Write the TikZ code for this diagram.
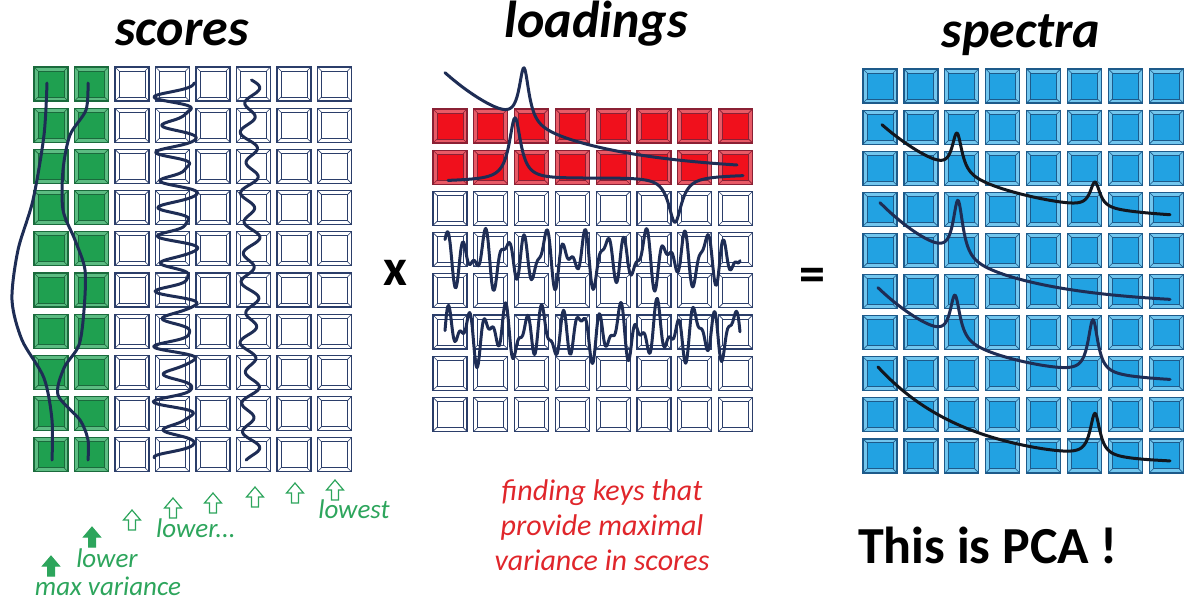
\documentclass[tikz,border=0pt]{standalone}
\usepackage{fontspec}
\setmainfont{Carlito}

% key colours: face, light bevel (L), dark rim (D)
\definecolor{gkey}{HTML}{1FA050}
\definecolor{gkeyL}{HTML}{5CBC82}
\definecolor{gkeyD}{HTML}{1A6A3C}
\definecolor{wkey}{HTML}{FFFFFF}
\definecolor{wkeyL}{HTML}{FFFFFF}
\definecolor{wkeyD}{HTML}{2B3E6A}
\definecolor{rkey}{HTML}{F0101C}
\definecolor{rkeyL}{HTML}{E85A66}
\definecolor{rkeyD}{HTML}{8A2034}
\definecolor{bkey}{HTML}{22A2E2}
\definecolor{bkeyL}{HTML}{72C6EE}
\definecolor{bkeyD}{HTML}{1D5A8A}
\definecolor{navy}{HTML}{1E2D55}
\definecolor{inkblack}{HTML}{12161E}
\definecolor{gtext}{HTML}{2DA55C}
\definecolor{rtext}{HTML}{E0262B}

% one bevelled key: x, y (top left), colour name
\newcommand{\keycap}[3]{%
  \filldraw[fill=#3L, draw=#3D, line width=1.2pt] (#1,#2) rectangle ++(34,34);
  \filldraw[fill=#3, draw=#3D, line width=0.9pt] ({#1+4},{#2+4}) rectangle ++(26,26);
  \draw[#3D, line width=0.6pt] (#1,#2) -- ++(4,4) ({#1+34},#2) -- ++(-4,4)
    (#1,{#2+34}) -- ++(4,-4) ({#1+34},{#2+34}) -- ++(-4,-4);
}

\begin{document}
\begin{tikzpicture}[x=1pt, y=-1pt,
    declare function={lor(\u,\m,\w)=1/(1+((\u-\m)/\w)^2);},
    curve/.style={line width=3pt, draw=navy, line cap=round, line join=round},
    blackcurve/.style={curve, draw=inkblack},
    title/.style={font=\fontsize{52}{60}\selectfont\bfseries\itshape, anchor=base},
    sign/.style={font=\fontsize{52}{60}\selectfont\bfseries},
    gnote/.style={font=\fontsize{27}{32}\selectfont\itshape, text=gtext, anchor=base},
    rnote/.style={font=\fontsize{30}{35}\selectfont\itshape, text=rtext, anchor=base},
    gfull/.style={fill=gtext, draw=gtext, line width=1pt},
    gopen/.style={fill=white, draw=gtext, line width=1.2pt},
    uparr/.pic={\path[pic actions] (-3.5,0) -- (-3.5,-10) -- (-8.5,-10) -- (0,-20)
      -- (8.5,-10) -- (3.5,-10) -- (3.5,0) -- cycle;}
  ]

    \useasboundingbox (0,0) rectangle (1188,603);

    % Titles
    \node[title] (scorest) at (182,45) {scores};
    \node[title] (loadt) at (596,37) {loadings};
    \node[title] (spect) at (1021,47) {spectra};

    % Scores keys: two green columns, six white
    \foreach \c in {0,1} {\foreach \r in {0,...,9} {\keycap{34+40.5*\c}{67+41.2*\r}{gkey}}}
    \foreach \c in {2,...,7} {\foreach \r in {0,...,9} {\keycap{34+40.5*\c}{67+41.2*\r}{wkey}}}

    % Scores curves
    \draw[curve] plot[smooth] coordinates {(47,83) (44,135) (33,200) (18,250) (12,300)
      (22,340) (44,378) (52,420) (52,460)};
    \draw[curve] plot[smooth] coordinates {(88,83) (86,110) (70,135) (63,170) (63,210)
      (75,240) (85,270) (84,310) (79,345) (64,368) (58,395) (80,420) (88,440) (88,460)};
    \draw[curve] plot[smooth, variable=\t, domain=83:458, samples=300]
      ({178 + (17+5*sin(7*(\t-80)))*sin(13*(\t-76)) + 3*sin(26*(\t-76)+60)}, \t);
    \draw[curve] plot[smooth, variable=\t, domain=80:460, samples=220]
      ({250 + 7*sin(12*(\t-80)) + 3*sin(5*(\t-80)+30)}, \t);

    % Variance arrows and notes
    \pic[gfull] at (51,576) {uparr};
    \pic[gfull] at (92,547) {uparr};
    \pic[gopen] at (132,530) {uparr};
    \pic[gopen] at (173,518) {uparr};
    \pic[gopen] at (213,513) {uparr};
    \pic[gopen] at (255,507) {uparr};
    \pic[gopen] at (295,503) {uparr};
    \pic[gopen] at (335,500) {uparr};
    \node[gnote] (maxvar) at (108,595) {max variance};
    \node[gnote] (lowera) at (107,567) {lower};
    \node[gnote] (lowerb) at (196,537) {lower...};
    \node[gnote] (lowest) at (354,518) {lowest};

    % Times sign
    \node[sign] (times) at (395,273) {x};

    % Loadings keys: two red rows, six white
    \foreach \c in {0,...,7} {\foreach \r in {0,1} {\keycap{433+40.8*\c}{109+41.2*\r}{rkey}}}
    \foreach \c in {0,...,7} {\foreach \r in {2,...,7} {\keycap{433+40.8*\c}{109+41.2*\r}{wkey}}}

    % Loadings curves
    \draw[curve] plot[variable=\t, domain=445:737, samples=300]
      (\t, {172 - 99*exp(-(\t-445)/110) - 56*lor(\t,524,6)});
    \draw[curve] plot[variable=\t, domain=448:743, samples=300]
      (\t, {181 - 0.02*(\t-448) - 62*lor(\t,515,7) + 46*lor(\t,675,8)});
    \draw[curve] plot[smooth, variable=\t, domain=445:740, samples=240]
      (\t, {258 + 18*sin(18*(\t-590)) + 11*sin(29*(\t-590)+30) + 7*sin(11*(\t-590)+50)});
    \draw[curve] plot[smooth, variable=\t, domain=445:740, samples=240]
      (\t, {333 + 17*sin(19*(\t-590)+70) + 11*sin(31*(\t-590)) + 7*sin(9*(\t-590)+20)});

    % Loadings note
    \node[rnote] (keysa) at (602,500) {finding keys that};
    \node[rnote] (keysb) at (602,535) {provide maximal};
    \node[rnote] (keysc) at (602,570) {variance in scores};

    % Equals sign
    \node[sign] (equals) at (812,280) {=};

    % Spectra keys
    \foreach \c in {0,...,7} {\foreach \r in {0,...,9} {\keycap{863+40.9*\c}{69+41.1*\r}{bkey}}}

    % Spectra curves
    \draw[blackcurve] plot[variable=\t, domain=882:1170, samples=300]
      (\t, {222 - 97*exp(-(\t-882)/110) - 40*lor(\t,957,6) - 26*lor(\t,1095,6)});
    \draw[curve] plot[variable=\t, domain=880:1170, samples=300]
      (\t, {305 - 102*exp(-(\t-880)/100) - 58*lor(\t,958,6)});
    \draw[curve] plot[variable=\t, domain=878:1170, samples=300]
      (\t, {385 - 97*exp(-(\t-878)/100) - 45*lor(\t,955,6) - 54*lor(\t,1093,6)});
    \draw[blackcurve] plot[variable=\t, domain=878:1170, samples=300]
      (\t, {465 - 98*exp(-(\t-878)/90) - 43*lor(\t,1095,6)});

    % Conclusion
    \node[sign, anchor=base] (pca) at (988,563) {This is PCA !};

\end{tikzpicture}
\end{document}
